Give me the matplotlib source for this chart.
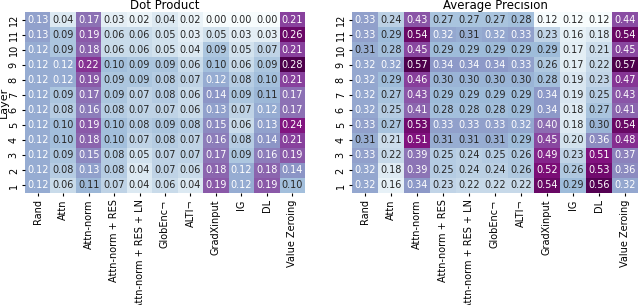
import numpy as np
import seaborn as sns
from matplotlib import pyplot as plt

# 方法名和层
methods = ['Rand', 'Attn', 'Attn-norm', 'Attn-norm + RES', 'Attn-norm + RES + LN',
           'GlobEnc¬', 'ALTI¬', 'GradXinput', 'IG', 'DL', 'Value Zeroing']
layers = ['12', '11', '10', '9', '8', '7', '6', '5', '4', '3', '2', '1']

# Dot Product (layer 12 在上)
dotProduct = [
    [0.13, 0.04, 0.17, 0.03, 0.02, 0.04, 0.02, 0.00, 0.00, 0.00, 0.21],
    [0.13, 0.09, 0.19, 0.06, 0.06, 0.05, 0.03, 0.05, 0.03, 0.03, 0.26],
    [0.12, 0.09, 0.18, 0.06, 0.06, 0.05, 0.04, 0.09, 0.05, 0.07, 0.21],
    [0.12, 0.12, 0.22, 0.10, 0.09, 0.09, 0.06, 0.10, 0.06, 0.09, 0.28],
    [0.12, 0.12, 0.19, 0.09, 0.09, 0.08, 0.07, 0.12, 0.08, 0.10, 0.21],
    [0.12, 0.09, 0.17, 0.09, 0.07, 0.08, 0.06, 0.14, 0.09, 0.11, 0.17],
    [0.12, 0.08, 0.16, 0.08, 0.07, 0.07, 0.06, 0.13, 0.07, 0.12, 0.17],
    [0.12, 0.10, 0.19, 0.10, 0.08, 0.09, 0.08, 0.15, 0.06, 0.13, 0.24],
    [0.12, 0.10, 0.18, 0.10, 0.07, 0.08, 0.07, 0.16, 0.08, 0.14, 0.21],
    [0.12, 0.09, 0.15, 0.08, 0.05, 0.07, 0.07, 0.17, 0.09, 0.16, 0.19],
    [0.12, 0.08, 0.13, 0.08, 0.04, 0.07, 0.06, 0.18, 0.12, 0.18, 0.14],
    [0.12, 0.06, 0.11, 0.07, 0.04, 0.06, 0.04, 0.19, 0.12, 0.19, 0.10],
]

# Average Precision
avgPrecision = [
    [0.33, 0.24, 0.43, 0.27, 0.27, 0.27, 0.28, 0.12, 0.12, 0.12, 0.44],
    [0.33, 0.29, 0.54, 0.32, 0.31, 0.32, 0.33, 0.23, 0.16, 0.18, 0.54],
    [0.31, 0.28, 0.45, 0.29, 0.29, 0.29, 0.29, 0.29, 0.17, 0.21, 0.45],
    [0.32, 0.32, 0.57, 0.34, 0.34, 0.34, 0.33, 0.26, 0.17, 0.22, 0.57],
    [0.32, 0.29, 0.46, 0.30, 0.30, 0.30, 0.30, 0.28, 0.19, 0.23, 0.47],
    [0.32, 0.27, 0.43, 0.29, 0.29, 0.29, 0.29, 0.34, 0.19, 0.25, 0.43],
    [0.32, 0.25, 0.41, 0.28, 0.28, 0.28, 0.29, 0.34, 0.18, 0.27, 0.41],
    [0.33, 0.27, 0.53, 0.33, 0.33, 0.33, 0.32, 0.40, 0.18, 0.30, 0.54],
    [0.31, 0.21, 0.51, 0.31, 0.31, 0.31, 0.29, 0.45, 0.20, 0.36, 0.48],
    [0.33, 0.22, 0.39, 0.25, 0.24, 0.25, 0.26, 0.49, 0.23, 0.51, 0.37],
    [0.32, 0.18, 0.39, 0.25, 0.24, 0.24, 0.26, 0.52, 0.26, 0.53, 0.36],
    [0.32, 0.16, 0.34, 0.23, 0.22, 0.22, 0.22, 0.54, 0.29, 0.56, 0.32],
]

fig = plt.figure(figsize=(6.4, 3.05), dpi=100)
ax1 = fig.add_axes([25 / 640, 112 / 305, 280 / 640, 181 / 305])
ax2 = fig.add_axes([352 / 640, 112 / 305, 286 / 640, 181 / 305])


def drawHeatmap(ax, data, title):
    sns.heatmap(np.array(data), ax=ax, cmap='BuPu', annot=True, fmt='.2f',
                annot_kws={'fontsize': 7}, cbar=False,
                xticklabels=methods, yticklabels=layers)
    ax.set_title(title, fontsize=8.5, pad=1)
    ax.tick_params(axis='both', labelsize=7, length=2.5, pad=2)
    plt.setp(ax.get_xticklabels(), rotation=90)
    plt.setp(ax.get_yticklabels(), rotation=90, va='center')


drawHeatmap(ax1, dotProduct, 'Dot Product')
drawHeatmap(ax2, avgPrecision, 'Average Precision')
ax1.set_ylabel('Layer', fontsize=8, labelpad=0)

fig.savefig('out.png', dpi=100)
